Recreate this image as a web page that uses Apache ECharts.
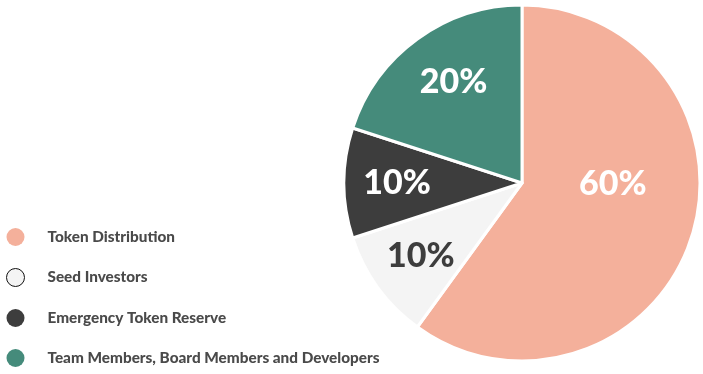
<!DOCTYPE html>
<html><head><meta charset="utf-8">
<script src="https://cdn.jsdelivr.net/npm/echarts@6/dist/echarts.min.js"></script>
<style>html,body{margin:0;padding:0;background:#fff}#c{width:703px;height:374px}</style>
</head><body><div id="c"></div>
<script>
const categories = ['Token Distribution', 'Seed Investors', 'Emergency Token Reserve', 'Team Members, Board Members and Developers'];
const values = [60, 10, 10, 20];
const colors = ['#F4B09B', '#F4F4F4', '#3D3D3D', '#458B7B'];
const labelColors = ['#ffffff', '#3D3D3D', '#ffffff', '#ffffff'];

const chart = echarts.init(document.getElementById('c'));
const C = [522, 183], R = 178;
const font = 'Lato, "Noto Sans", sans-serif';

chart.setOption({
  animation: false,
  legend: {
    orient: 'vertical', left: 6, top: 228, padding: 0, height: 160,
    itemWidth: 18, itemHeight: 18, itemGap: 22,
    icon: 'circle',
    textStyle: { fontFamily: font, fontWeight: 900, fontSize: 15.3, color: '#4A4A4A', padding: [0, 0, 0, 18] },
    data: categories.map((n, i) => ({
      name: n,
      itemStyle: i === 1 ? { color: colors[i], borderColor: '#111', borderWidth: 1 } : { color: colors[i], borderWidth: 0 }
    }))
  },
  series: [
    {
      type: 'pie', center: C, radius: R, startAngle: 90, clockwise: true,
      label: { show: false }, labelLine: { show: false }, silent: true,
      itemStyle: { borderColor: '#fff', borderWidth: 3 },
      data: categories.map((n, i) => ({ name: n, value: values[i], itemStyle: { color: colors[i] } }))
    },
    {
      type: 'pie', center: C, radius: [66, R], startAngle: 90, clockwise: true, silent: true,
      itemStyle: { color: 'rgba(0,0,0,0)' }, labelLine: { show: false },
      label: { show: true, position: 'inside', formatter: '{d}%', fontFamily: font, fontWeight: 900, fontSize: 34 },
      data: categories.map((n, i) => ({
        name: n, value: values[i],
        label: i === 0
          ? { color: labelColors[i], formatter: '{d}%\n ', lineHeight: 76, padding: [0, 56, 0, 0] }
          : i === 3
          ? { color: labelColors[i], padding: [0, 0, 0, 10] }
          : { color: labelColors[i] }
      }))
    }
  ]
});
</script></body></html>
